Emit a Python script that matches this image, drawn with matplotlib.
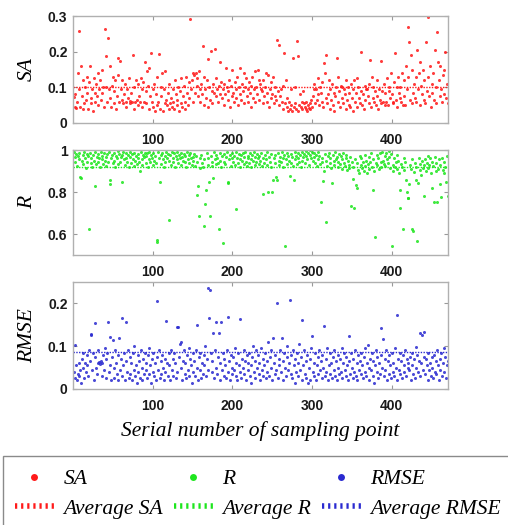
import numpy as np
import matplotlib
matplotlib.use('Agg')
import matplotlib.pyplot as plt
from matplotlib.lines import Line2D
from matplotlib.patches import Rectangle
from matplotlib.ticker import FuncFormatter

# values, in thousandths (one per sampling point)
sa_milli = [
    72, 45, 80, 42, 60, 140, 95, 258, 45, 160,
    75, 38, 120, 55, 100, 65, 130, 85, 40, 115,
    160, 70, 55, 95, 35, 125, 60, 85, 110, 75,
    140, 50, 95, 120, 65, 150, 85, 100, 45, 263,
    187, 100, 60, 237, 95, 70, 160, 45, 105, 130,
    55, 90, 120, 40, 75, 135, 183, 60, 175, 95,
    65, 120, 55, 80, 110, 60, 45, 95, 70, 125,
    55, 62, 85, 60, 190, 40, 100, 58, 120, 65,
    110, 50, 75, 60, 125, 95, 45, 115, 60, 170,
    90, 55, 145, 105, 40, 155, 75, 197, 60, 95,
    45, 110, 35, 80, 50, 130, 60, 193, 40, 100,
    75, 140, 35, 95, 55, 145, 65, 50, 85, 40,
    110, 55, 70, 45, 95, 60, 40, 120, 80, 50,
    65, 100, 35, 90, 55, 125, 45, 75, 105, 60,
    40, 130, 85, 50, 115, 70, 291, 95, 120, 140,
    60, 135, 85, 140, 105, 125, 75, 145, 95, 60,
    110, 80, 217, 50, 130, 95, 70, 120, 180, 45,
    100, 65, 202, 90, 55, 110, 85, 207, 75, 125,
    95, 60, 105, 80, 172, 115, 70, 95, 50, 110,
    80, 155, 100, 65, 90, 120, 45, 105, 75, 150,
    85, 60, 115, 95, 70, 130, 50, 100, 155, 80,
    65, 110, 90, 140, 55, 100, 125, 75, 95, 60,
    115, 85, 45, 105, 130, 70, 95, 145, 60, 100,
    80, 150, 65, 120, 110, 95, 90, 55, 120, 75,
    100, 140, 60, 85, 135, 45, 95, 70, 115, 80,
    130, 55, 100, 75, 65, 232, 90, 218, 50, 75,
    95, 60, 105, 40, 197, 55, 120, 45, 70, 35,
    60, 40, 95, 50, 35, 183, 45, 100, 55, 40,
    230, 35, 187, 50, 80, 45, 60, 38, 90, 55,
    45, 40, 60, 35, 50, 42, 55, 38, 65, 45,
    75, 95, 110, 55, 95, 65, 125, 80, 50, 100,
    85, 60, 115, 45, 167, 140, 70, 190, 55, 80,
    120, 40, 95, 65, 110, 50, 85, 35, 75, 100,
    181, 60, 130, 90, 45, 105, 70, 100, 55, 95,
    80, 40, 120, 65, 100, 50, 85, 45, 110, 70,
    35, 95, 120, 60, 85, 125, 45, 100, 70, 55,
    90, 198, 50, 80, 40, 105, 65, 95, 95, 75,
    55, 110, 178, 45, 130, 70, 100, 60, 90, 50,
    120, 75, 40, 95, 65, 175, 55, 90, 60, 110,
    85, 50, 60, 125, 50, 90, 100, 70, 140, 80,
    60, 55, 115, 195, 65, 100, 45, 130, 85, 70,
    100, 60, 140, 50, 75, 120, 50, 160, 95, 130,
    270, 226, 65, 190, 55, 150, 85, 110, 70, 130,
    60, 204, 95, 140, 50, 170, 105, 80, 150, 65,
    120, 55, 226, 90, 296, 130, 75, 160, 45, 110,
    85, 140, 65, 206, 100, 55, 254, 171, 120, 75,
    160, 95, 60, 135, 80, 150, 199, 70, 110, 55,
]

r_milli = [
    990, 965, 945, 980, 925, 970, 955, 985, 873, 866,
    950, 975, 935, 990, 960, 915, 980, 945, 970, 624,
    985, 940, 960, 920, 975, 950, 827, 990, 935, 965,
    945, 980, 960, 920, 990, 955, 970, 935, 985, 950,
    965, 925, 980, 945, 990, 838, 857, 960, 975, 940,
    985, 950, 920, 970, 960, 995, 935, 980, 945, 965,
    975, 846, 990, 955, 930, 985, 960, 945, 975, 920,
    990, 965, 940, 980, 955, 925, 985, 950, 970, 935,
    960, 980, 945, 900, 990, 955, 930, 975, 965, 985,
    940, 970, 985, 920, 955, 990, 945, 975, 960, 930,
    985, 950, 970, 940, 571, 564, 990, 960, 849, 975,
    935, 985, 955, 920, 970, 945, 990, 960, 980, 667,
    950, 975, 930, 990, 960, 945, 985, 920, 970, 955,
    990, 940, 975, 960, 985, 930, 965, 950, 980, 945,
    970, 920, 990, 955, 975, 940, 985, 960, 930, 965,
    950, 980, 925, 970, 945, 786, 830, 684, 960, 915,
    975, 940, 920, 638, 955, 743, 810, 985, 930, 960,
    849, 686, 970, 945, 925, 869, 990, 955, 935, 975,
    960, 940, 624, 985, 950, 920, 970, 559, 945, 980,
    935, 965, 990, 843, 846, 955, 975, 925, 960, 985,
    945, 970, 930, 990, 717, 960, 940, 980, 955, 920,
    975, 950, 985, 935, 965, 990, 945, 925, 970, 960,
    940, 985, 955, 920, 975, 950, 990, 930, 965, 945,
    980, 960, 935, 970, 950, 985, 925, 789, 960, 940,
    975, 955, 930, 990, 802, 965, 945, 920, 980, 802,
    856, 960, 940, 975, 871, 857, 985, 950, 930, 965,
    945, 990, 960, 920, 975, 543, 955, 985, 935, 970,
    950, 878, 980, 940, 965, 925, 857, 990, 955, 970,
    935, 985, 960, 945, 975, 920, 990, 950, 965, 980,
    940, 970, 995, 955, 985, 930, 975, 998, 960, 990,
    950, 985, 965, 940, 975, 925, 990, 955, 970, 935,
    751, 960, 945, 854, 900, 980, 659, 950, 925, 970,
    985, 940, 960, 915, 843, 975, 950, 930, 990, 955,
    965, 920, 945, 980, 935, 970, 910, 955, 985, 940,
    925, 960, 975, 905, 950, 930, 915, 965, 732, 945,
    860, 920, 724, 955, 833, 817, 940, 905, 889, 970,
    930, 960, 915, 945, 900, 975, 925, 950, 889, 935,
    965, 910, 945, 985, 920, 810, 955, 900, 587, 940,
    975, 930, 960, 910, 985, 945, 920, 990, 950, 935,
    970, 925, 985, 955, 940, 995, 965, 915, 980, 543,
    930, 900, 960, 920, 945, 975, 910, 950, 890, 724,
    810, 935, 920, 622, 960, 905, 945, 857, 802, 773,
    773, 840, 930, 910, 622, 955, 616, 895, 940, 920,
    857, 567, 841, 960, 905, 935, 880, 950, 915, 930,
    780, 955, 900, 940, 970, 915, 930, 960, 890, 945,
    817, 925, 752, 965, 900, 940, 752, 910, 955, 840,
    930, 775, 960, 905, 945, 890, 920, 850, 970, 780,
]

rmse_milli = [
    40, 25, 103, 55, 20, 35, 60, 30, 45, 15,
    70, 50, 85, 25, 60, 40, 80, 55, 30, 90,
    65, 127, 128, 45, 85, 20, 155, 75, 50, 35,
    90, 60, 62, 58, 65, 60, 30, 80, 45, 95,
    25, 70, 85, 157, 40, 122, 55, 20, 75, 114,
    50, 25, 90, 60, 35, 80, 22, 120, 45, 70,
    30, 166, 55, 85, 20, 157, 65, 40, 90, 25,
    75, 35, 60, 20, 85, 45, 100, 30, 55, 15,
    80, 40, 65, 25, 90, 50, 20, 70, 35, 85,
    45, 60, 25, 80, 35, 95, 55, 15, 70, 40,
    85, 30, 60, 20, 75, 206, 45, 90, 25, 65,
    35, 80, 50, 20, 70, 40, 159, 60, 30, 85,
    55, 20, 90, 45, 70, 30, 85, 60, 25, 144,
    40, 145, 75, 104, 50, 110, 20, 65, 90, 35,
    60, 25, 80, 45, 95, 30, 70, 55, 15, 85,
    40, 65, 30, 90, 150, 50, 20, 75, 45, 85,
    25, 60, 35, 80, 55, 100, 30, 70, 236, 45,
    166, 231, 85, 40, 65, 130, 25, 90, 50, 157,
    35, 75, 130, 20, 60, 156, 45, 85, 30, 70,
    55, 25, 90, 168, 40, 65, 20, 80, 50, 35,
    75, 45, 95, 30, 60, 20, 85, 55, 40, 163,
    25, 70, 50, 90, 35, 65, 20, 80, 45, 60,
    85, 30, 55, 15, 75, 100, 40, 65, 25, 90,
    50, 80, 35, 60, 20, 95, 45, 70, 30, 55,
    85, 25, 65, 40, 110, 30, 75, 50, 90, 20,
    118, 60, 35, 80, 45, 200, 25, 70, 55, 90,
    40, 118, 65, 20, 85, 50, 30, 75, 100, 45,
    60, 209, 35, 80, 25, 90, 55, 15, 70, 40,
    85, 30, 60, 105, 45, 75, 161, 20, 55, 90,
    35, 65, 25, 80, 15, 50, 70, 20, 95, 124,
    40, 60, 30, 85, 20, 55, 75, 35, 90, 45,
    65, 25, 80, 50, 147, 30, 70, 40, 95, 20,
    55, 85, 35, 60, 25, 75, 45, 90, 30, 65,
    20, 80, 50, 35, 70, 40, 95, 25, 60, 85,
    45, 30, 75, 55, 20, 124, 65, 35, 85, 50,
    25, 70, 40, 90, 30, 60, 20, 80, 45, 65,
    35, 85, 55, 25, 75, 40, 95, 30, 60, 102,
    50, 20, 70, 45, 85, 30, 65, 15, 55, 90,
    40, 75, 25, 60, 35, 80, 143, 50, 117, 30,
    70, 45, 90, 20, 65, 35, 80, 55, 25, 85,
    40, 60, 30, 95, 50, 20, 173, 70, 45, 85,
    35, 65, 25, 80, 55, 40, 90, 30, 70, 50,
    60, 45, 75, 20, 85, 55, 35, 70, 25, 99,
    50, 80, 40, 65, 30, 130, 60, 126, 45, 75,
    134, 35, 70, 55, 20, 85, 45, 60, 30, 75,
    50, 25, 80, 40, 65, 35, 90, 55, 20, 70,
    45, 85, 30, 60, 95, 40, 75, 25, 55, 65,
]

avg_sa = 0.1
avg_r = 0.918
avg_rmse = 0.087

panel_names = ['SA', 'R', 'RMSE']
x_ticks = [100, 200, 300, 400]
sa_ticks = [0, 0.1, 0.2, 0.3]
r_ticks = [0.6, 0.8, 1.0]
rmse_ticks = [0, 0.1, 0.2]
x_label = 'Serial number of sampling point'

serif = ['Liberation Serif', 'DejaVu Serif']
sans = ['Liberation Sans', 'DejaVu Sans']

fig = plt.figure(figsize=(5.08, 5.25), dpi=100)
W, H = 508.0, 525.0

# panel boxes in pixels: (top, bottom)
boxes = [(16, 123), (150, 255), (282, 389)]
left_px, right_px = 73, 447.5

panels = [
    (np.array(sa_milli) / 1000.0, avg_sa, (0, 0.3), sa_ticks, '#ff1a1a'),
    (np.array(r_milli) / 1000.0, avg_r, (0.5, 1.0), r_ticks, '#1ee61e'),
    (np.array(rmse_milli) / 1000.0, avg_rmse, (0, 0.25), rmse_ticks, '#2a2ad0'),
]

fmt = FuncFormatter(lambda v, p: f'{v:g}')
axes = []
for (top, bot), (vals, avg, ylim, yt, col), name in zip(boxes, panels, panel_names):
    ax = fig.add_axes([left_px / W, 1 - bot / H, (right_px - left_px) / W, (bot - top) / H])
    xs = np.arange(1, len(vals) + 1)
    ax.plot(xs, vals, ls='none', marker='o', ms=2.2, mew=0, color=col, alpha=0.85)
    ax.axhline(avg, color=col, ls=(0, (1, 1.0)), lw=1.0)
    ax.set_xlim(0, 470)
    ax.set_ylim(*ylim)
    ax.set_xticks(x_ticks)
    ax.set_yticks(yt)
    ax.yaxis.set_major_formatter(fmt)
    ax.tick_params(direction='in', length=3, width=0.8, color='#999999',
                   top=True, right=True, labelsize=10, labelcolor='#1a1a1a', pad=4)
    ax.tick_params(axis='x', pad=7)
    for lab in ax.get_xticklabels() + ax.get_yticklabels():
        lab.set_fontweight('bold')
        lab.set_family(sans)
    for sp in ax.spines.values():
        sp.set_color('#b0b0b0')
        sp.set_linewidth(1.0)
    ax.set_ylabel(name, family=serif, style='italic', fontsize=15.5)
    ax.yaxis.set_label_coords(-0.097, 0.5)
    axes.append(ax)

axes[-1].set_xlabel(x_label, family=serif, style='italic', fontsize=15.5, labelpad=6)

# legend box, cut off by the figure edges as in the picture
fig.add_artist(Rectangle((3 / W, -0.05), 1.1, (525 - 456) / H + 0.05,
                         transform=fig.transFigure, fill=False, ec='#8a8a8a', lw=1.0))

colors = [p[4] for p in panels]
handles, labels = [], []
for col, name in zip(colors, panel_names):
    handles.append(Line2D([], [], ls='none', marker='o', ms=5, mew=0, color=col))
    labels.append(name)
    handles.append(Line2D([], [], color=col, lw=4.0, ls=(0, (0.4, 0.7))))
    labels.append('Average ' + name)

fig.legend(handles, labels, ncol=3, loc='upper left',
           bbox_to_anchor=(15 / W, 1 - 469 / H), frameon=False, borderpad=0,
           borderaxespad=0, handlelength=1.8, handletextpad=0.45,
           columnspacing=0.5, labelspacing=0.45,
           prop={'family': serif, 'style': 'italic', 'size': 15.5})

fig.savefig('out.png', dpi=100)
